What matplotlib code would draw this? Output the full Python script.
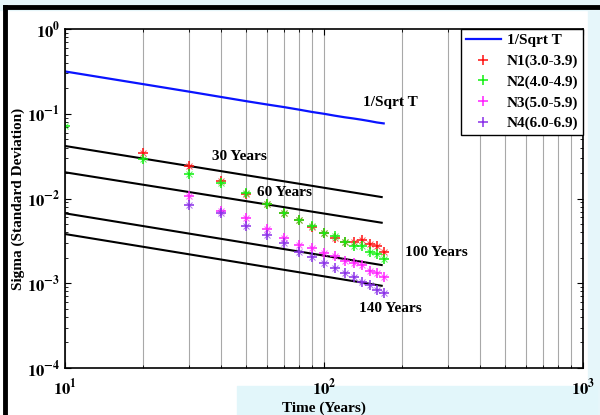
import math
import matplotlib
matplotlib.use("Agg")
import matplotlib.pyplot as plt
from matplotlib.ticker import FuncFormatter, LogLocator, NullFormatter
from matplotlib.patches import Rectangle
from matplotlib.lines import Line2D

plt.rcParams['font.family'] = 'Liberation Serif'
plt.rcParams['font.weight'] = 'bold'
plt.rcParams['mathtext.fontset'] = 'stix'

# time axis (years)
T = [10, 20, 30, 40, 50, 60, 70, 80, 90, 100, 110, 120, 130, 140, 150, 160, 170]

# 1/sqrt(T) curve, values
sqrt_curve = [0.316, 0.224, 0.183, 0.158, 0.141, 0.129, 0.120, 0.112, 0.105,
              0.100, 0.095, 0.091, 0.088, 0.085, 0.082, 0.079, 0.077]

# magnitude groups
T_n1 = [20, 30, 40, 50, 60, 70, 80, 90, 100, 110, 120, 130, 140, 150, 160, 170]
n1 = [0.0347, 0.0242, 0.0161, 0.0113, 0.0085, 0.0067, 0.0056, 0.0046, 0.0039,
      0.00339, 0.00307, 0.0031, 0.00324, 0.0029, 0.00275, 0.00236]
T_n2 = T
n2 = [0.0716, 0.029, 0.0195, 0.0151, 0.0115, 0.0085, 0.00669, 0.00557, 0.00473,
      0.00395, 0.00361, 0.00307, 0.00277, 0.00275, 0.00236, 0.00221, 0.00192]
T_n34 = [30, 40, 50, 60, 70, 80, 90, 100, 110, 120, 130, 140, 150, 160, 170]
n3 = [0.0107, 0.0072, 0.00583, 0.00433, 0.00339, 0.00283, 0.00258, 0.00225,
      0.0021, 0.00183, 0.00175, 0.00164, 0.00141, 0.00131, 0.00117]
n4 = [0.00838, 0.00681, 0.00474, 0.00371, 0.00296, 0.00236, 0.00202, 0.00172,
      0.0015, 0.00133, 0.00117, 0.00104, 0.00095, 0.00083, 0.00076]

# reference lines (start, end)
ref_T = [10, 167]
years30 = [0.0417, 0.0104]
years60 = [0.0204, 0.00518]
years100 = [0.00669, 0.00164]
years140 = [0.00381, 0.000934]

labels = ['N1(3.0-3.9)', 'N2(4.0-4.9)', 'N3(5.0-5.9)', 'N4(6.0-6.9)']
colors = ['#ff1010', '#10f010', '#ff20ff', '#8a30e8']

fig = plt.figure(figsize=(6, 4.15), dpi=100)
fig.patch.set_facecolor('white')
# light background bits and black frame
fig.add_artist(Rectangle((0, 0.975), 1, 0.025, transform=fig.transFigure, color='#e6f6fa', zorder=0))
fig.add_artist(Rectangle((0.98, 0), 0.02, 1, transform=fig.transFigure, color='#e6f6fa', zorder=0))
fig.add_artist(Rectangle((0.395, 0), 0.6, 0.07, transform=fig.transFigure, color='#e2f6fa', zorder=0))
fig.add_artist(Line2D([0.009, 1], [0.982, 0.982], transform=fig.transFigure, color='black', lw=3.5))
fig.add_artist(Line2D([0.009, 0.009], [0, 0.982], transform=fig.transFigure, color='black', lw=3.5))

ax = fig.add_axes([0.1083, 0.1133, 0.8634, 0.8167])
ax.set_xscale('log')
ax.set_yscale('log')
ax.set_xlim(10, 1000)
ax.set_ylim(1e-4, 1)

ax.plot(T, sqrt_curve, color='#0a14ff', lw=1.6, label='1/Sqrt T')
for y in [years30, years60, years100, years140]:
    ax.plot(ref_T, y, color='black', lw=1.5)

mk = dict(marker='+', ms=7, mew=1.1, ls='none')
mk2 = dict(marker='x', ms=4, mew=0.7, ls='none', alpha=0.7)
for xs, ys, c, lab in [(T_n1, n1, colors[0], labels[0]), (T_n2, n2, colors[1], labels[1]),
                       (T_n34, n3, colors[2], labels[2]), (T_n34, n4, colors[3], labels[3])]:
    ax.plot(xs, ys, color=c, label=lab, **mk)
    ax.plot(xs, ys, color=c, **mk2)

fs = 11
ax.text(37, 0.0317, '30 Years', fontsize=fs, fontweight='bold', va='center')
ax.text(55, 0.0119, '60 Years', fontsize=fs, fontweight='bold', va='center')
ax.text(205, 0.00228, '100 Years', fontsize=fs, fontweight='bold', va='center')
ax.text(137, 0.000497, '140 Years', fontsize=fs, fontweight='bold', va='center')
ax.text(141, 0.1376, '1/Sqrt T', fontsize=fs, fontweight='bold', va='center')

ax.grid(True, axis='x', which='both', color='#a8a8a8', lw=0.8, ls='-')
ax.set_axisbelow(True)

fmt = FuncFormatter(lambda v, p: r'$\mathbf{10^{%d}}$' % round(math.log10(v)))
ax.xaxis.set_major_formatter(fmt)
ax.yaxis.set_major_formatter(fmt)
ax.xaxis.set_minor_formatter(NullFormatter())
ax.yaxis.set_minor_locator(LogLocator(subs=range(2, 10)))
ax.yaxis.set_minor_formatter(NullFormatter())
ax.tick_params(which='both', direction='in', top=True, right=True, labelsize=12)
ax.tick_params(which='major', length=4)
ax.tick_params(which='minor', length=2)
ax.tick_params(axis='x', which='major', pad=7)
for s in ax.spines.values():
    s.set_linewidth(1.2)

ax.set_xlabel('Time (Years)', fontsize=11, fontweight='bold', labelpad=2)
ax.set_ylabel('Sigma (Standard Deviation)', fontsize=11, fontweight='bold', labelpad=1)

leg = ax.legend(loc='upper right', fontsize=fs, frameon=True, fancybox=False,
                edgecolor='black', borderaxespad=0, handlelength=2.3,
                labelspacing=0.45, handletextpad=0.4, borderpad=0.3, framealpha=1)
leg.get_frame().set_linewidth(1.0)
for t in leg.get_texts():
    t.set_fontweight('bold')

fig.savefig('out.png', dpi=100)
